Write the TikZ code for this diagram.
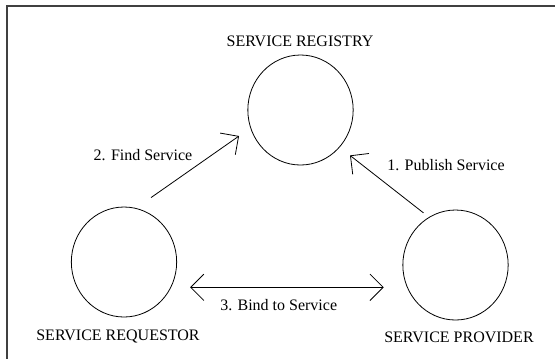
\documentclass[tikz,border=0pt]{standalone}
\usepackage{fontspec}
\setmainfont{Liberation Serif}
\usetikzlibrary{
  arrows.meta,
  shapes.geometric
}

\begin{document}
\begin{tikzpicture}[
  x=0.75pt, y=-0.75pt,
  font=\fontsize{12}{14}\selectfont,
  role/.style={
    draw,
    ellipse,
    line width=0.6pt,
    minimum width=79pt,
    minimum height=82.5pt,
    inner sep=0pt
  },
  caption/.style={anchor=base},
  flow/.style={
    line width=0.6pt,
    >={Straight Barb[angle=90:14pt]}
  }
]

% Canvas and frame (only the top and left edges fall inside)
\path[clip] (0,0) rectangle (555,358);
\draw[line width=1.4pt, black!75] (7,380) |- (580,6);

% The three roles
\node[role] (registry) at (300.5,110) {};
\node[role] (requestor) at (124,262) {};
\node[role] (provider) at (455.5,265) {};

\node[caption] (registry label) at (300,46) {SERVICE REGISTRY};
\node[caption] (requestor label) at (118,340) {SERVICE REQUESTOR};
\node[caption] (provider label) at (459,342) {SERVICE PROVIDER};

% Arrow end points, just off the ellipses
\coordinate (find tail) at ([shift={(27,-9)}]requestor.north);
\coordinate (find head) at ([shift={(-8.4,26)}]registry.west);
\coordinate (publish tail) at ([shift={(-32,3.3)}]provider.north);
\coordinate (publish head) at ([shift={(49.5,-10)}]registry.south);
\coordinate (bind left) at ([shift={(13,25.3)}]requestor.east);
\coordinate (bind right) at ([shift={(-18.7,22.3)}]provider.west);

% Interactions
\draw[flow, ->] (publish tail) -- (publish head);
\node[caption] (publish label) at (446,170) {1. Publish Service};

\draw[flow, ->] (find tail) -- (find head);
\node[caption] (find label) at (143,160) {2. Find Service};

\draw[flow, <->] (bind left) -- (bind right);
\node[caption] (bind label) at (278.7,310) {3. Bind to Service};

\end{tikzpicture}
\end{document}
